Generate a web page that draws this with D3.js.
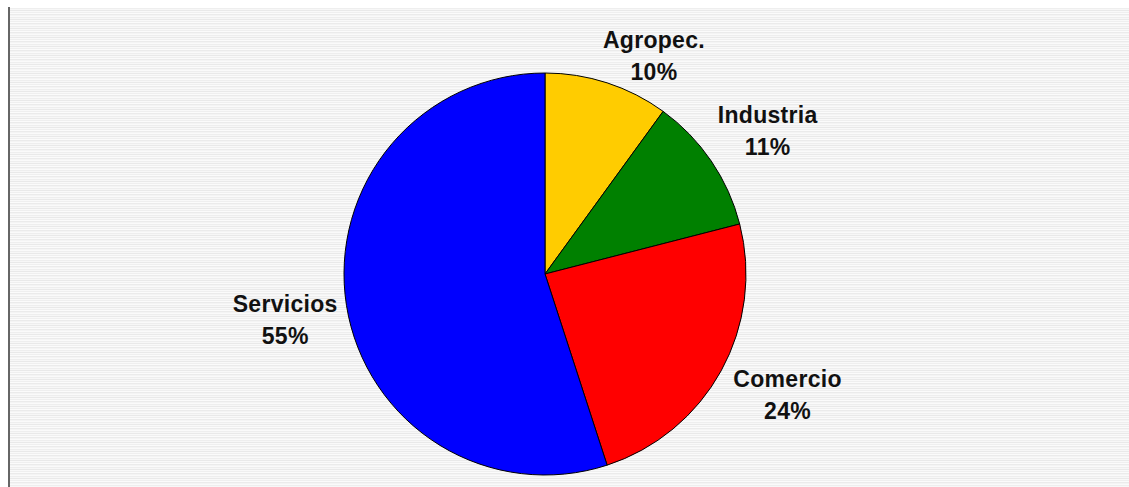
<!DOCTYPE html>
<html>
<head>
<meta charset="utf-8">
<script src="https://cdn.jsdelivr.net/npm/d3@7"></script>
<style>
  body { margin: 0; background: #fff; }
  .lbl { font-family: Arial, "Liberation Sans", sans-serif; font-weight: bold; font-size: 23px; letter-spacing: 0.3px; fill: #111; }
</style>
</head>
<body>
<div id="chart"></div>
<script>
// data
var categories = ["Agropec.", "Industria", "Comercio", "Servicios"];
var shares = [10, 11, 24, 55];
var colors = ["#FFCC00", "#008000", "#FF0000", "#0000FF"];

var svgWidth = 1129, svgHeight = 487;
var cx = 545, cy = 274, radius = 201;

// label nudges from arc centroid (Excel-like placement)
var labelNudge = [[28, 31], [6, 4], [13, -5], [-1, 5]];

var svg = d3.select("#chart").append("svg")
    .attr("width", svgWidth)
    .attr("height", svgHeight);

// striped plot background
var defs = svg.append("defs");
var pat = defs.append("pattern")
    .attr("id", "stripes")
    .attr("patternUnits", "userSpaceOnUse")
    .attr("width", 10).attr("height", 9);
var rows = ["#f7f7f7", "#e9e9e9", "#f9f9f9", "#efefef", "#fbfbfb", "#ebebeb", "#f4f4f4", "#fafafa", "#eeeeee"];
rows.forEach(function (c, i) {
    pat.append("rect").attr("x", 0).attr("y", i).attr("width", 10).attr("height", 1).attr("fill", c);
});

svg.append("rect")
    .attr("x", 10).attr("y", 8)
    .attr("width", svgWidth - 10).attr("height", svgHeight - 8)
    .attr("fill", "url(#stripes)");

svg.append("rect")
    .attr("x", 8).attr("y", 7)
    .attr("width", 2).attr("height", svgHeight - 7)
    .attr("fill", "#666");

var data = categories.map(function (c, i) { return { name: c, value: shares[i], color: colors[i] }; });

var pie = d3.pie().sort(null).value(function (d) { return d.value; });
var arc = d3.arc().innerRadius(0).outerRadius(radius);
var labelArc = d3.arc().innerRadius(262).outerRadius(262);

var g = svg.append("g").attr("transform", "translate(" + cx + "," + cy + ")");

g.selectAll("path")
    .data(pie(data))
    .enter()
    .append("path")
    .attr("d", arc)
    .attr("fill", function (d) { return d.data.color; })
    .attr("stroke", "#000")
    .attr("stroke-width", 1);

var labels = g.selectAll("text.lbl")
    .data(pie(data))
    .enter()
    .append("text")
    .attr("class", "lbl")
    .attr("text-anchor", "middle")
    .attr("transform", function (d, i) {
        var p = labelArc.centroid(d);
        return "translate(" + (p[0] + labelNudge[i][0]) + "," + (p[1] + labelNudge[i][1]) + ")";
    });

labels.append("tspan").attr("x", 0).attr("y", -8).text(function (d) { return d.data.name; });
labels.append("tspan").attr("x", 0).attr("y", 24).text(function (d) { return d.data.value + "%"; });
</script>
</body>
</html>
